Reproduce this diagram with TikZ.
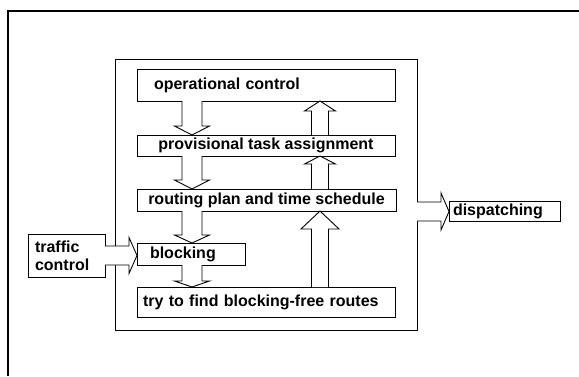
\documentclass[tikz,border=0pt]{standalone}
\usepackage{fontspec}
\setmainfont{Liberation Sans}
\usetikzlibrary{calc}

% hollow block arrows between two anchors
\newcommand\arrowdown[5]{\path[blockarrow] let \p1=(#1), \p2=(#2) in
  (\x1-#3,\y1) -- (\x1-#3,\y2+#5) -- (\x1-#4,\y2+#5) -- (\x1,\y2)
  -- (\x1+#4,\y2+#5) -- (\x1+#3,\y2+#5) -- (\x1+#3,\y1);}
\newcommand\arrowup[5]{\path[blockarrow] let \p1=(#1), \p2=(#2) in
  (\x1-#3,\y1) -- (\x1-#3,\y2-#5) -- (\x1-#4,\y2-#5) -- (\x1,\y2)
  -- (\x1+#4,\y2-#5) -- (\x1+#3,\y2-#5) -- (\x1+#3,\y1);}
\newcommand\arrowright[5]{\path[blockarrow] let \p1=(#1), \p2=(#2) in
  (\x1,\y1+#3) -- (\x2-#5,\y1+#3) -- (\x2-#5,\y1+#4) -- (\x2,\y1)
  -- (\x2-#5,\y1-#4) -- (\x2-#5,\y1-#3) -- (\x1,\y1-#3);}

\begin{document}
\begin{tikzpicture}[x=1pt,y=-1pt,
  every node/.style={font=\fontsize{16}{18}\selectfont\bfseries},
  box/.style={draw,line width=0.9pt,rectangle,inner sep=0pt,outer sep=0pt},
  blockarrow/.style={draw,fill=white,line width=0.9pt,line join=miter}]
\useasboundingbox (0,0) rectangle (579,376);

% page frame
\draw[line width=1.2pt] (8,376) -- (8,11) -- (579,11);

% enclosing system box
\node[box,minimum width=302pt,minimum height=271pt] (sys) at (266,194.5) {};

% layers
\node[box,inner xsep=17pt,text width=224pt,align=left,minimum height=32pt] (op) at (266,85) {operational control};
\node[box,minimum width=258pt,minimum height=21pt] (prov) at (266,145.5) {provisional task assignment};
\node[box,minimum width=259pt,minimum height=22pt] (route) at (266.5,200) {routing plan and time schedule};
\node[box,inner xsep=13pt,text width=82pt,align=left,minimum height=22pt] (block) at (191,254) {blocking};
\node[box,inner xsep=6pt,text width=246pt,align=left,minimum height=30pt] (try) at (266,302) {try to find blocking-free routes};

% outside parties
\node[box,inner xsep=7pt,text width=63pt,align=left,minimum height=43pt] (traffic) at (66.5,255.5) {traffic\\control};
\node[box,inner xsep=4pt,text width=103pt,align=left,minimum height=20pt] (disp) at (504.5,211.5) {dispatching};

% arrow columns
\coordinate (dcol) at (192,0);
\coordinate (ucol) at (320,0);

% downward flow
\arrowdown{op.south -| dcol}{prov.north -| dcol}{10pt}{17.5pt}{9pt}
\arrowdown{prov.south -| dcol}{route.north -| dcol}{10pt}{17.5pt}{9pt}
\arrowdown{route.south -| dcol}{block.north -| dcol}{10pt}{17.5pt}{8pt}
\arrowdown{block.south -| dcol}{try.north -| dcol}{10pt}{17.5pt}{6pt}

% upward feedback
\arrowup{prov.north -| ucol}{op.south -| ucol}{8.5pt}{15.5pt}{10pt}
\arrowup{route.north -| ucol}{prov.south -| ucol}{8.5pt}{15.5pt}{8pt}
\arrowup{try.north -| ucol}{route.south -| ucol}{8.5pt}{19pt}{18pt}

% inputs and outputs
\arrowright{traffic.east}{block.west}{9.5pt}{18pt}{8pt}
\arrowright{sys.east |- disp.west}{disp.west}{9.5pt}{18.5pt}{8pt}
\end{tikzpicture}
\end{document}
